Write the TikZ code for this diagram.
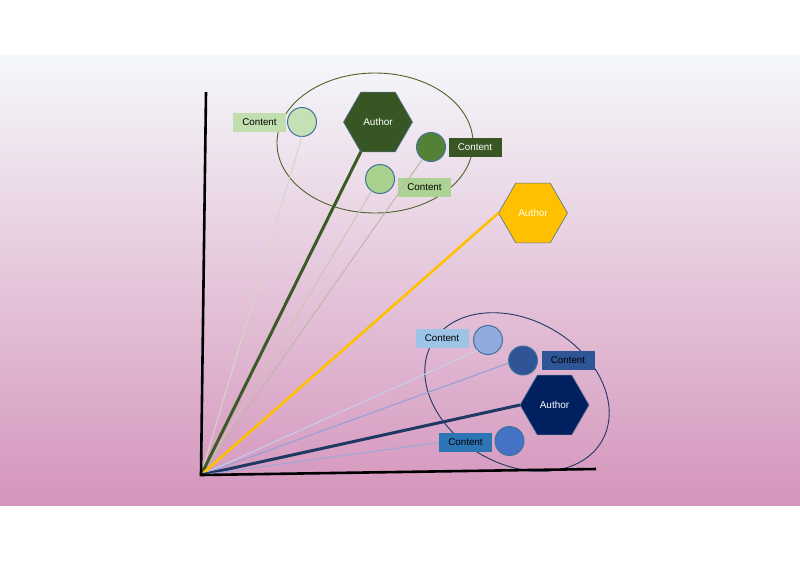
\documentclass[tikz,border=0pt]{standalone}
\usepackage{fontspec}
\setmainfont{Liberation Sans}
\usetikzlibrary{shapes.geometric}
\definecolor{bgtop}{HTML}{F5F8FB}
\definecolor{bgbot}{HTML}{D595BC}
\definecolor{gdark}{HTML}{375623}
\definecolor{gmid}{HTML}{548235}
\definecolor{glight}{HTML}{C5E0B4}
\definecolor{glight2}{HTML}{A9D18E}
\definecolor{gell}{HTML}{4F6228}
\definecolor{ygold}{HTML}{FFC000}
\definecolor{navy}{HTML}{002060}
\definecolor{bnavy}{HTML}{203864}
\definecolor{bdark}{HTML}{2F5597}
\definecolor{bmid}{HTML}{4472C4}
\definecolor{blight}{HTML}{8FAADC}
\definecolor{blab1}{HTML}{9DC3E6}
\definecolor{blab3}{HTML}{2E75B6}
\definecolor{cborder}{HTML}{41719C}
\definecolor{ray1}{RGB}{216,214,200}
\definecolor{ray2}{RGB}{205,196,180}
\definecolor{ray3}{RGB}{190,182,168}
\definecolor{ray4}{RGB}{196,208,236}
\definecolor{ray5}{RGB}{143,160,216}
\definecolor{ray6}{RGB}{154,168,216}
\tikzset{
  hexnode/.style={regular polygon, regular polygon sides=6, minimum size=69pt, inner sep=0pt, outer sep=0pt, draw=cborder!70!gray, line width=0.6pt, font=\fontsize{10}{12}\selectfont},
  dot/.style={circle, minimum size=29pt, inner sep=0pt, outer sep=0pt, draw=cborder, line width=1pt},
  lab/.style={rectangle, minimum width=53pt, minimum height=19pt, inner sep=0pt, outer sep=0pt, font=\fontsize{9.8}{11}\selectfont},
  ray/.style={line width=1pt},
  mainray/.style={line width=3pt},
  axis/.style={line width=2.6pt, black},
  groupell/.style={ellipse, line width=0.9pt, inner sep=0pt, minimum width=196pt}
}
\begin{document}
\begin{tikzpicture}[x=1pt,y=-1pt]
\useasboundingbox (0,0) rectangle (800,560);
\fill[white] (0,0) rectangle (800,560);
\shade[top color=bgtop, bottom color=bgbot] (0,55) rectangle (800,505);
% group ellipses
\node[groupell, draw=gell, minimum height=140pt] (eg) at (375,143) {};
\node[groupell, draw=bnavy, minimum height=144pt, rotate=-30] (eb) at (517,392) {};
% origin and axes ends
\coordinate (O) at (201,475);
\coordinate (ytop) at (206,92);
\coordinate (xend) at (596,469);
% authors
\node[hexnode, fill=gdark, text=white] (hg) at (378,122) {Author};
\node[hexnode, fill=ygold, text=white!90!yellow] (hy) at (533,213) {Author};
\node[hexnode, fill=navy, text=white] (hb) at (554.5,405) {Author};
% green contents
\node[dot, fill=glight] (c1) at (302,122) {};
\node[dot, fill=gmid] (c2) at (431,147) {};
\node[dot, fill=glight2] (c3) at (380,179) {};
\node[lab, fill=glight!85!glight2] (l1) at (259.5,122.5) {Content};
\node[lab, fill=gdark, text=white] (l2) at (475,147.5) {Content};
\node[lab, fill=glight2!85!glight] (l3) at (424.5,187.5) {Content};
% blue contents
\node[dot, fill=blight] (d1) at (488,340) {};
\node[dot, fill=bdark] (d2) at (523,360.5) {};
\node[dot, fill=bmid] (d3) at (509.5,441) {};
\node[lab, fill=blab1] (m1) at (442,338.5) {Content};
\node[lab, fill=bdark] (m2) at (568,360) {Content};
\node[lab, fill=blab3] (m3) at (465.5,442.5) {Content};
% rays
\draw[ray, ray1] (O) -- (c1.south);
\draw[ray, ray2] (O) -- (c3.235);
\draw[ray, ray3] (O) -- (c2.235);
\draw[mainray, gdark!90!gmid] (O) -- (hg.240);
\draw[line width=2.6pt, ygold] (O) -- (hy.180);
\draw[ray, ray4] (O) -- (d1.225);
\draw[ray, ray5] (O) -- (d2.190);
\draw[mainray, bnavy] (O) -- (hb.180);
\draw[ray, ray6] (O) -- (m3.west);
% axes
\draw[axis] (ytop) -- (O) -- (xend);
\end{tikzpicture}
\end{document}
